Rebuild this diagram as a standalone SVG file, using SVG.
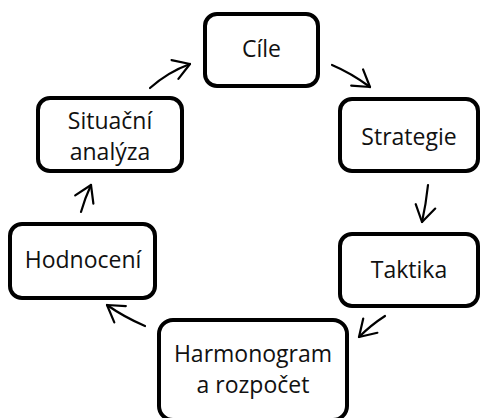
<svg xmlns="http://www.w3.org/2000/svg" width="481" height="418" viewBox="0 0 481 418">
<style>
.box{fill:#fff;stroke:#000;stroke-width:4}
.t{font-family:"Open Sans","Noto Sans","DejaVu Sans",sans-serif;font-size:23px;fill:#111;text-anchor:middle}
.c{fill:none;stroke:#000;stroke-width:2.2;stroke-linecap:round}
</style>
<defs>
<marker id="ah" markerUnits="userSpaceOnUse" markerWidth="40" markerHeight="40" refX="0" refY="0" viewBox="-20 -20 40 40" orient="auto" overflow="visible">
<path d="M-16,-10 L0,0 L-16,10" fill="none" stroke="#000" stroke-width="2.2" stroke-linecap="round" stroke-linejoin="round"/>
</marker>
</defs>
<rect width="481" height="418" fill="#fff"/>
<g id="connectors">
<path class="c" d="M150,88 Q168,72 190,64" marker-end="url(#ah)"/>
<path class="c" d="M332,65 Q351,73 370,87" marker-end="url(#ah)"/>
<path class="c" d="M428,185 Q426,204 422,222" marker-end="url(#ah)"/>
<path class="c" d="M385,316 Q371,325 359,337" marker-end="url(#ah)"/>
<path class="c" d="M145,326 Q124,317 107,305" marker-end="url(#ah)"/>
<path class="c" d="M81,212 Q85,198 91,185" marker-end="url(#ah)"/>
</g>
<g id="cile">
<rect class="box" x="205" y="14" width="113" height="72" rx="12"/>
<text class="t" x="261.5" y="57">Cíle</text>
</g>
<g id="strategie">
<rect class="box" x="340" y="99" width="138" height="72" rx="12"/>
<text class="t" x="409" y="145">Strategie</text>
</g>
<g id="taktika">
<rect class="box" x="340" y="234" width="138" height="72" rx="12"/>
<text class="t" x="409" y="278">Taktika</text>
</g>
<g id="harmonogram">
<rect class="box" x="159" y="320" width="188" height="100" rx="14"/>
<text class="t" x="253" y="362">Harmonogram</text>
<text class="t" x="253" y="393">a rozpočet</text>
</g>
<g id="hodnoceni">
<rect class="box" x="10" y="224" width="145" height="74" rx="12"/>
<text class="t" x="83" y="268">Hodnocení</text>
</g>
<g id="situacni">
<rect class="box" x="38" y="98" width="144" height="73" rx="12"/>
<text class="t" x="110" y="129">Situační</text>
<text class="t" x="110" y="160">analýza</text>
</g>
</svg>
